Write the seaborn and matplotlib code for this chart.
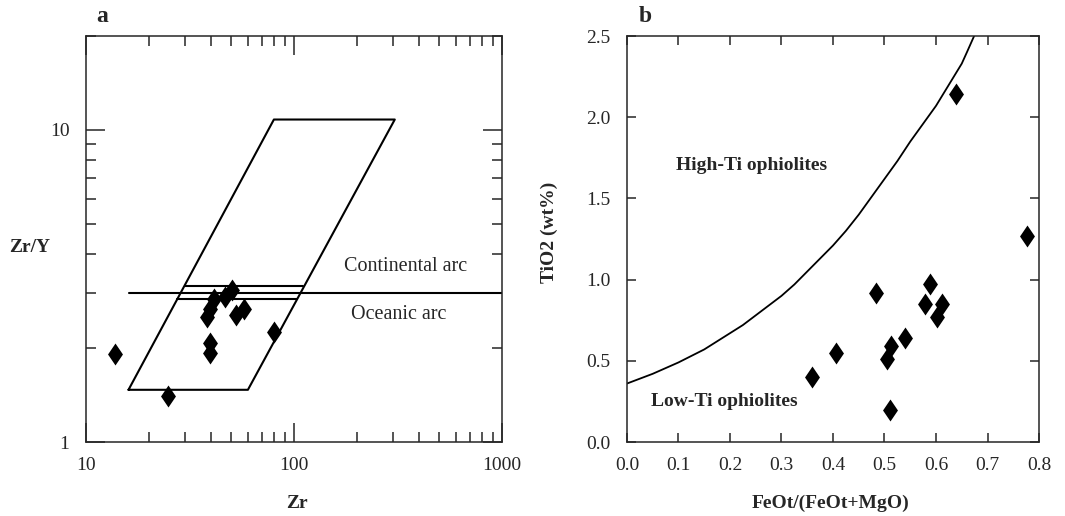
import numpy as np
import pandas as pd
import seaborn as sns
import matplotlib.pyplot as plt
from matplotlib.ticker import LogLocator, NullFormatter, FormatStrFormatter

sns.set_style('ticks')
plt.rcParams['font.family'] = ['Liberation Serif', 'DejaVu Serif']
plt.rcParams['axes.linewidth'] = 1.1

# panel a: Zr vs Zr/Y
zr = [13.8, 24.9, 38.0, 39.4, 41.4, 39.3, 39.3, 46.5, 50.1, 52.8, 57.3, 79.8]
zr_y = [1.92, 1.40, 2.51, 2.67, 2.88, 2.08, 1.93, 2.91, 3.06, 2.55, 2.67, 2.25]

field_zr = [16, 60, 305, 80, 16]
field_zr_y = [1.47, 1.47, 10.8, 10.8, 1.47]
arc_line_zr = [[16, 1000], [30, 110], [27.5, 103.5]]
arc_line_zr_y = [[3.0, 3.0], [3.17, 3.17], [2.87, 2.87]]

# panel b: FeOt/(FeOt+MgO) vs TiO2
fe_ratio = [0.359, 0.405, 0.483, 0.504, 0.512, 0.511, 0.540, 0.578, 0.589, 0.601, 0.612, 0.639, 0.776]
tio2 = [0.40, 0.55, 0.92, 0.51, 0.59, 0.20, 0.64, 0.85, 0.97, 0.77, 0.85, 2.14, 1.27]

# High-Ti / Low-Ti boundary
curve_x = [0.0, 0.025, 0.05, 0.075, 0.1, 0.125, 0.15, 0.175, 0.2, 0.225, 0.25,
           0.275, 0.3, 0.325, 0.35, 0.375, 0.4, 0.425, 0.45, 0.475, 0.5,
           0.525, 0.55, 0.575, 0.6, 0.625, 0.65, 0.66, 0.674]
curve_y = [0.36, 0.39, 0.42, 0.455, 0.49, 0.53, 0.57, 0.62, 0.67, 0.72, 0.78,
           0.84, 0.90, 0.97, 1.05, 1.13, 1.21, 1.30, 1.40, 1.51, 1.62,
           1.73, 1.85, 1.96, 2.07, 2.20, 2.33, 2.40, 2.50]

diamond = [(0, 1), (0.68, 0), (0, -1), (-0.68, 0), (0, 1)]

fig = plt.figure(figsize=(10.65, 5.16), dpi=100)
ax_a = fig.add_axes([0.0808, 0.1434, 0.3906, 0.7868])
ax_b = fig.add_axes([0.5887, 0.1434, 0.3869, 0.7868])

# ---- panel a
sns.lineplot(x=field_zr, y=field_zr_y, sort=False, color='black', lw=1.5,
             estimator=None, ax=ax_a)
for xs, ys in zip(arc_line_zr, arc_line_zr_y):
    sns.lineplot(x=xs, y=ys, color='black', lw=1.5, estimator=None, ax=ax_a)
sns.scatterplot(x=zr, y=zr_y, marker=diamond, s=250, color='black',
                edgecolor='black', linewidth=0, ax=ax_a, zorder=3)
ax_a.set(xscale='log', yscale='log', xlim=(10, 1000), ylim=(1, 20))
ax_a.set_xticks([10, 100, 1000], labels=['10', '100', '1000'])
ax_a.set_yticks([1, 10], labels=['1', '10'])
ax_a.xaxis.set_minor_locator(LogLocator(base=10, subs=np.arange(2, 10)))
ax_a.yaxis.set_minor_locator(LogLocator(base=10, subs=np.arange(2, 10)))
ax_a.xaxis.set_minor_formatter(NullFormatter())
ax_a.yaxis.set_minor_formatter(NullFormatter())
ax_a.tick_params(which='major', direction='in', length=14, width=1.1,
                 top=True, right=True, labelsize=14)
ax_a.tick_params(which='minor', direction='in', length=7.5, width=1.1,
                 top=True, right=True)
ax_a.tick_params(axis='x', which='major', pad=11)
ax_a.tick_params(axis='y', which='major', pad=12)
ax_a.set_xlabel('Zr', fontsize=14, fontweight='bold')
ax_a.set_ylabel('Zr/Y', fontsize=14, fontweight='bold', rotation=0,
                ha='center', va='center')
ax_a.xaxis.set_label_coords(0.507, -0.13)
ax_a.yaxis.set_label_coords(-0.135, 0.478)
ax_a.text(343, 3.66, 'Continental arc', fontsize=14.5, ha='center', va='center')
ax_a.text(318, 2.56, 'Oceanic arc', fontsize=14.5, ha='center', va='center')
ax_a.text(0.038, 1.047, 'a', transform=ax_a.transAxes, fontsize=17,
          fontweight='bold', ha='center', va='center')

# ---- panel b
sns.lineplot(x=curve_x, y=curve_y, color='black', lw=1.3, estimator=None, ax=ax_b)
sns.scatterplot(x=fe_ratio, y=tio2, marker=diamond, s=250, color='black',
                edgecolor='black', linewidth=0, ax=ax_b, zorder=3)
ax_b.set(xlim=(0, 0.8), ylim=(0, 2.5),
         xticks=np.arange(0, 0.81, 0.1), yticks=np.arange(0, 2.51, 0.5))
ax_b.xaxis.set_major_formatter(FormatStrFormatter('%.1f'))
ax_b.yaxis.set_major_formatter(FormatStrFormatter('%.1f'))
ax_b.tick_params(direction='in', length=6.5, width=1.1, top=True, right=True,
                 labelsize=14)
ax_b.tick_params(axis='x', pad=11)
ax_b.tick_params(axis='y', pad=12)
ax_b.set_xlabel('FeOt/(FeOt+MgO)', fontsize=14, fontweight='bold')
ax_b.set_ylabel('TiO2 (wt%)', fontsize=14, fontweight='bold')
ax_b.xaxis.set_label_coords(0.493, -0.13)
ax_b.yaxis.set_label_coords(-0.167, 0.517)
ax_b.text(0.241, 1.70, 'High-Ti ophiolites', fontsize=14, fontweight='bold',
          ha='center', va='center')
ax_b.text(0.189, 0.25, 'Low-Ti ophiolites', fontsize=14, fontweight='bold',
          ha='center', va='center')
ax_b.text(0.044, 1.047, 'b', transform=ax_b.transAxes, fontsize=17,
          fontweight='bold', ha='center', va='center')

fig.savefig('out.png', dpi=100)
